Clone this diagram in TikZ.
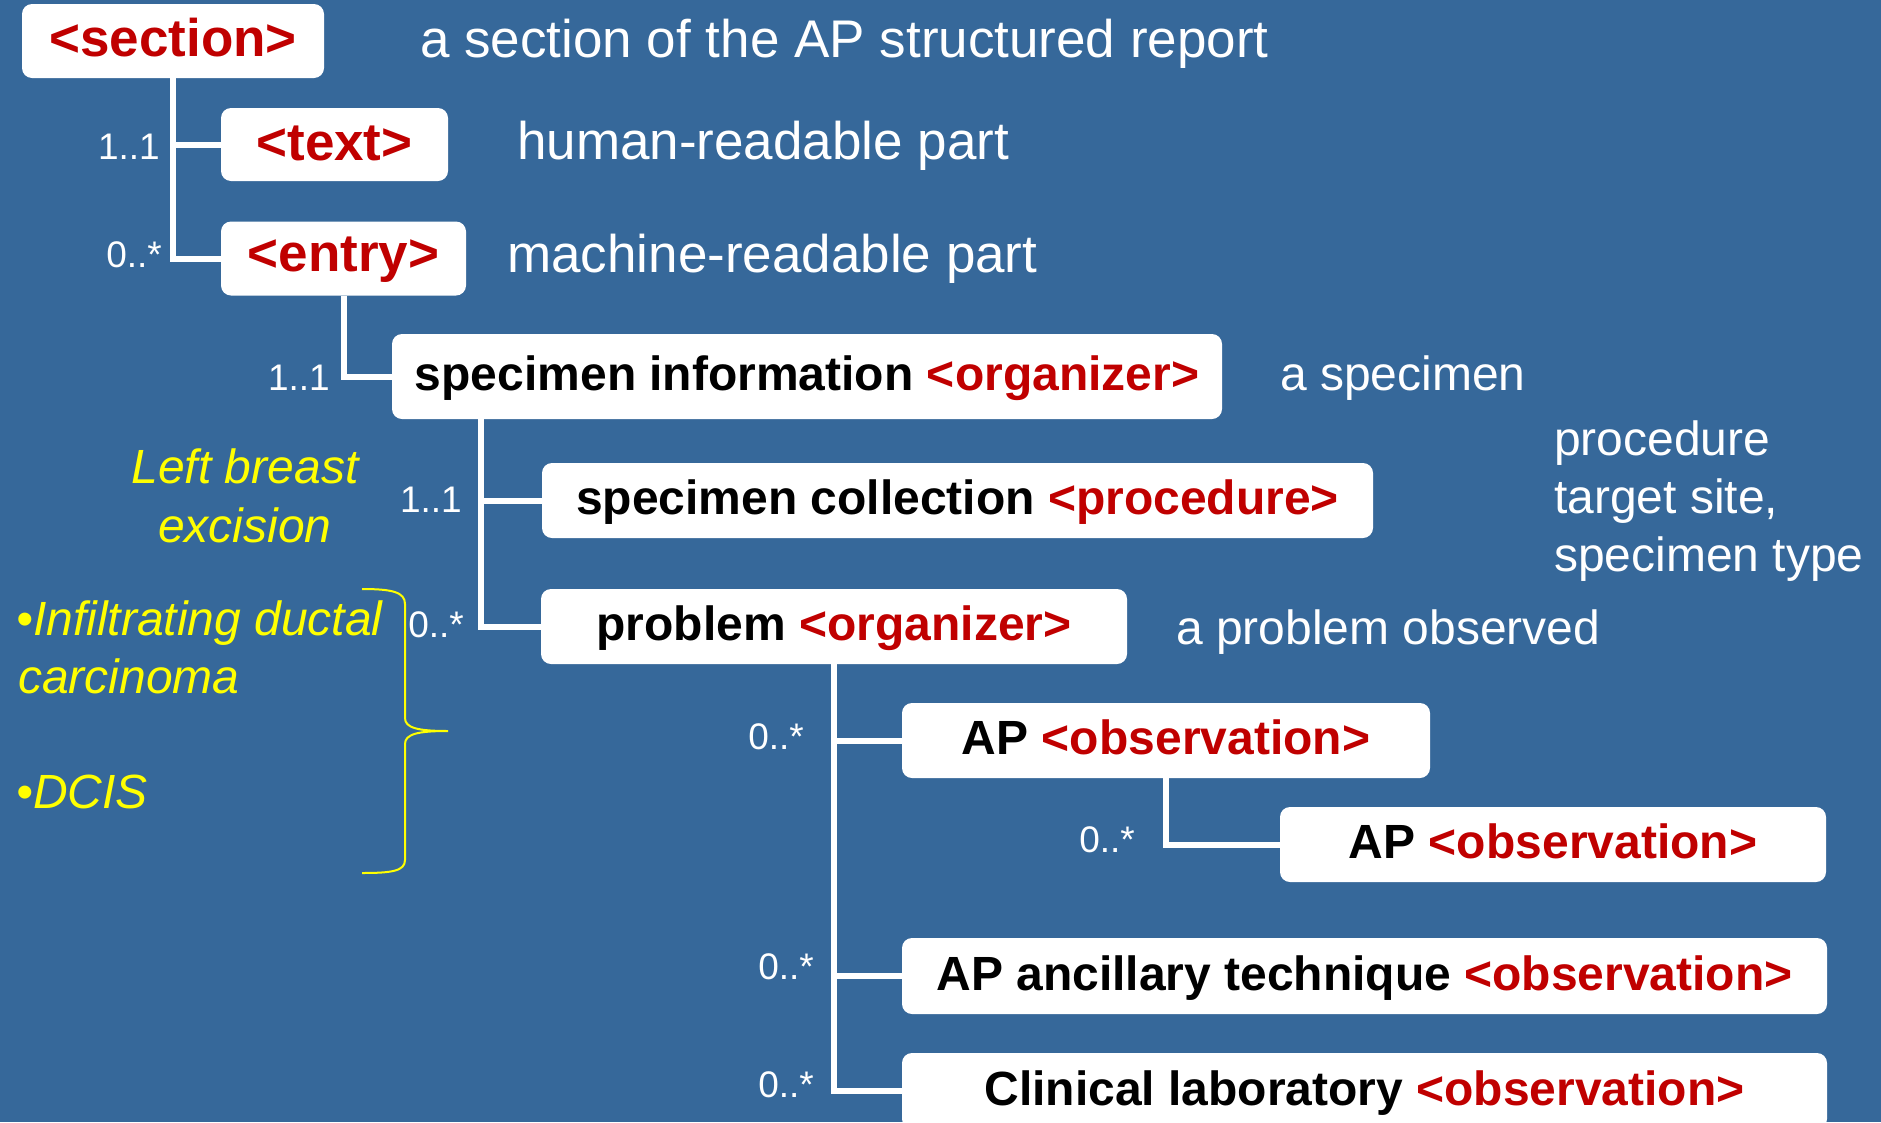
\documentclass[tikz,border=0pt]{standalone}
\usepackage{fontspec}
\setmainfont{Liberation Sans}
\usetikzlibrary{calc}
\definecolor{slide}{RGB}{54,104,154}
\definecolor{tagred}{RGB}{192,0,0}
\definecolor{noteyellow}{RGB}{255,255,0}
\newcommand{\tg}[1]{\textcolor{tagred}{#1}}

\begin{document}
\begin{tikzpicture}[x=1pt,y=-1pt,
  box/.style={fill=white, rounded corners=10pt, inner sep=0pt,
    font=\fontsize{48}{52}\selectfont\bfseries, text=black,
    text height=38.4pt, text depth=9.6pt},
  bigbox/.style={box, font=\fontsize{53}{58}\selectfont\bfseries,
    text height=42.4pt, text depth=10.6pt},
  wire/.style={draw=white, line width=6pt},
  card/.style={text=white, font=\fontsize{37}{40}\selectfont, inner sep=0pt, anchor=base east},
  desc/.style={text=white, font=\fontsize{48}{58}\selectfont, inner sep=0pt, anchor=base west},
  bigdesc/.style={desc, font=\fontsize{53}{60}\selectfont},
  note/.style={text=noteyellow, font=\fontsize{48}{58}\selectfont\itshape, inner sep=0pt}
]
% page and background
\fill[slide] (0,0) rectangle (1881,1122);
\useasboundingbox (0,0) rectangle (1881,1122);
\clip (0,0) rectangle (1881,1122);

% boxes of the section tree
\node[bigbox, minimum width=302, minimum height=74] (sec) at (173,41) {\tg{<section>}};
\node[bigbox, minimum width=227, minimum height=73] (txt) at (334.5,144.5) {\tg{<text>}};
\node[bigbox, minimum width=245, minimum height=74, text height=37pt, text depth=11pt] (ent) at (343.5,258.5) {\tg{<entry>}};
\node[box, minimum width=830, minimum height=85] (spi) at (807,376.5) {specimen information \tg{<organizer>}};
\node[box, minimum width=831, minimum height=75] (col) at (957.5,500.5) {specimen collection \tg{<procedure>}};
\node[box, minimum width=586, minimum height=75] (prb) at (834,626.5) {problem \tg{<organizer>}};
\node[box, minimum width=528, minimum height=75] (apa) at (1166,740.5) {AP \tg{<observation>}};
\node[box, minimum width=546, minimum height=75] (apb) at (1553,844.5) {AP \tg{<observation>}};
\node[box, minimum width=925, minimum height=76] (anc) at (1364.5,976) {AP ancillary technique \tg{<observation>}};
\node[box, minimum width=925, minimum height=76] (lab) at (1364.5,1091) {Clinical laboratory \tg{<observation>}};

% tree connectors
\draw[wire] (sec.south) |- (txt.west);
\draw[wire] (sec.south) |- (ent.west);
\draw[wire] (ent.south) |- (spi.west);
\draw[wire] ($(spi.south west)+(89,0)$) |- (col.west);
\draw[wire] ($(spi.south west)+(89,0)$) |- (prb.west);
\draw[wire] (prb.south) |- (apa.west);
\draw[wire] (prb.south) |- (anc.west);
\draw[wire] (prb.south) |- (lab.west);
\draw[wire] (apa.south) |- (apb.west);

% multiplicities
\node[card] (m1) at (160,159.5) {1..1};
\node[card] (m2) at (162,267) {0..*};
\node[card] (m3) at (330,390) {1..1};
\node[card] (m4) at (462,512) {1..1};
\node[card] (m5) at (464,637) {0..*};
\node[card] (m6) at (804,749) {0..*};
\node[card] (m7) at (1135,852) {0..*};
\node[card] (m8) at (814,979) {0..*};
\node[card] (m9) at (814,1097) {0..*};

% descriptions
\node[bigdesc] (d1) at (420,57) {a section of the AP structured report};
\node[bigdesc] (d2) at (517,159) {human-readable part};
\node[bigdesc] (d3) at (507,272) {machine-readable part};
\node[desc] (d4) at (1280,390) {a specimen};
\node[desc] (d5a) at (1554,455) {procedure};
\node[desc] (d5b) at (1554,513) {target site,};
\node[desc] (d5c) at (1554,571) {specimen type};
\node[desc] (d6) at (1176,644) {a problem observed};

% example values
\node[note, anchor=base] (n1a) at (245,483) {Left breast};
\node[note, anchor=base] (n1b) at (245,542) {excision};
\node[note, anchor=base west] (n2a) at (16,635) {•Infiltrating ductal};
\node[note, anchor=base west] (n2b) at (18,693) {carcinoma};
\node[note, anchor=base west] (n3) at (16,808) {•DCIS};

% brace grouping the findings
\draw[noteyellow, line width=2pt]
  (362,589) .. controls (392,589) and (405,592) .. (405,604)
  -- (405,718) .. controls (405,728) and (418,731) .. (448,731)
  .. controls (418,731) and (405,734) .. (405,744)
  -- (405,860) .. controls (405,871) and (392,873) .. (362,873);
\end{tikzpicture}
\end{document}
